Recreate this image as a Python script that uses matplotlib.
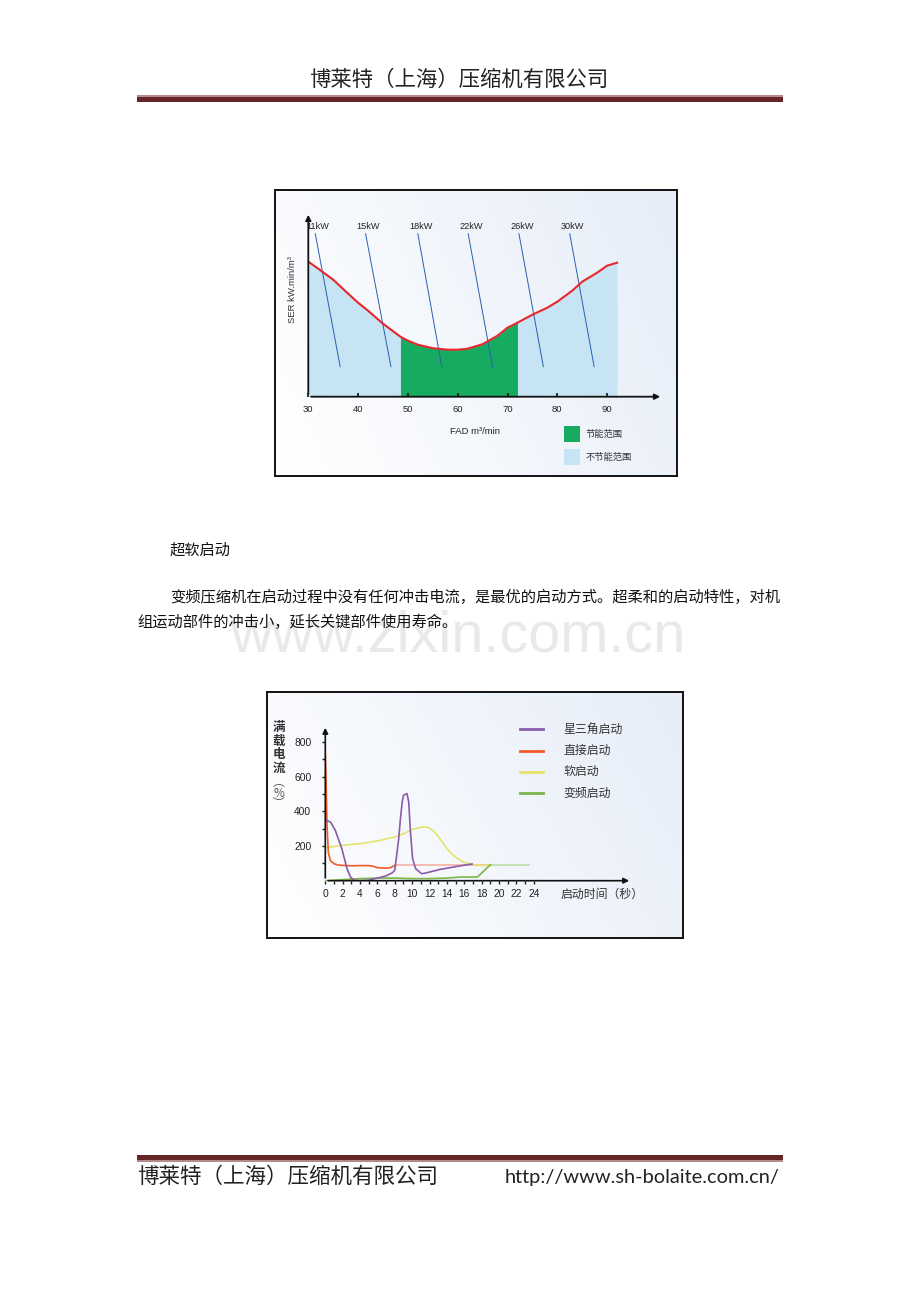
import numpy as np
import matplotlib
matplotlib.use('Agg')
import matplotlib.pyplot as plt
from matplotlib.patches import Rectangle
from matplotlib.colors import LinearSegmentedColormap

plt.rcParams['font.family'] = ['Liberation Sans', 'Noto Sans CJK SC', 'DejaVu Sans']

# ---- 页面文字 ----
COMPANY = '博莱特（上海）压缩机有限公司'
URL = 'http://www.sh-bolaite.com.cn/'
SECTION = '超软启动'
PARA_1 = '变频压缩机在启动过程中没有任何冲击电流，是最优的启动方式。超柔和的启动特性，对机'
PARA_2 = '组运动部件的冲击小，延长关键部件使用寿命。'
WATERMARK = 'www.zixin.com.cn'

# ---- 图1：SER 曲线 ----
fad = [30, 32, 35, 38, 40, 42, 45, 48.5, 50, 52, 55, 58, 60, 62, 65, 68, 70, 72,
       75, 78, 80, 83, 85, 88, 90, 92]
ser = [135, 128, 117, 103, 94, 86, 73, 60, 56, 52, 48.5, 47, 47, 48, 52.5, 61, 69, 74,
       82, 89, 95, 106, 115, 124, 131, 134]
save_lo, save_hi = 48.5, 72
fad_ticks = [30, 40, 50, 60, 70, 80, 90]
kw_labels = ['11kW', '15kW', '18kW', '22kW', '26kW', '30kW']
kw_x_top = [31.4, 41.5, 52.0, 62.1, 72.3, 82.5]
kw_x_bot = [36.4, 46.6, 56.8, 67.0, 77.2, 87.4]
kw_y_top, kw_y_bot = 163, 30

# ---- 图2：启动电流 ----
sd_t = [0, 0.6, 1.15, 1.9, 2.5, 2.9, 3.3, 4.0, 5.0, 6.0, 7.0, 7.7, 8.0, 8.45, 8.65, 8.85,
        9.0, 9.4, 9.6, 9.8, 10.05, 10.4, 11.1, 11.7, 13.2, 14.8, 16.3, 16.9]
sd_v = [350, 338, 290, 185, 69, 21, 2, 0, 3, 15, 28, 45, 60, 242, 358, 454,
        492, 502, 454, 281, 127, 69, 40, 46, 65, 79, 92, 96]
dr_t = [0, 0.08, 0.2, 0.35, 0.6, 1.0, 1.5, 2, 3, 4, 5, 5.5, 6, 7, 7.5, 8]
dr_v = [730, 600, 320, 160, 115, 98, 90, 88, 86, 87, 87, 83, 75, 72, 75, 88]
dr_tail_t = [8, 19]
dr_tail_v = [88, 88]
ss_t = [0, 2, 4, 6, 8, 9, 10, 11, 11.5, 12, 12.5, 13, 14, 15, 16, 17, 18, 19]
ss_v = [190, 204, 213, 229, 252, 270, 296, 308, 310, 304, 285, 255, 185, 135, 105, 93, 88, 88]
vf_t = [0, 2, 4, 6, 8, 10, 12, 14, 15.5, 17.5, 19]
vf_v = [0, 6, 12, 15, 15, 12, 12, 15, 21, 21, 92]
vf_tail_t = [19, 23.5]
vf_tail_v = [92, 92]
legend2 = ['星三角启动', '直接启动', '软启动', '变频启动']
colors2 = ['#8a5cad', '#f05a28', '#e4e46c', '#7ab648']

W, H = 920, 1302
fig = plt.figure(figsize=(W / 100, H / 100), dpi=100)
fig.patch.set_facecolor('white')


def px_box(x0, y0, x1, y1):
    return [x0 / W, 1 - y1 / H, (x1 - x0) / W, (y1 - y0) / H]


page = fig.add_axes([0, 0, 1, 1], zorder=0)
page.set_xlim(0, W)
page.set_ylim(H, 0)
page.axis('off')

cjk = ['Noto Sans CJK SC', 'DejaVu Sans']

# 页眉
page.text(459, 80, COMPANY, ha='center', va='center', fontsize=15.4, family=cjk, color='#222')
page.add_patch(Rectangle((137, 95), 646, 1.6, color='#b58a8a', lw=0))
page.add_patch(Rectangle((137, 97), 646, 5, color='#662526', lw=0))

# 水印
page.text(458, 652, WATERMARK, ha='center', va='baseline', fontsize=41.5,
          family='Liberation Sans', color='#e9e9e9', zorder=0)

# 正文
page.text(170, 550, SECTION, va='center', fontsize=11, family=cjk, color='#111')
page.text(170, 597, PARA_1, va='center', fontsize=11, family=cjk, color='#111')
page.text(137, 622, PARA_2, va='center', fontsize=11, family=cjk, color='#111')

# 页脚
page.add_patch(Rectangle((137, 1155), 646, 4.5, color='#662526', lw=0))
page.add_patch(Rectangle((137, 1160), 646, 1.6, color='#b58a8a', lw=0))
page.text(137, 1177, COMPANY, ha='left', va='center', fontsize=15.5, family=cjk, color='#222')
url = page.text(780, 1178, URL, ha='right', va='center', fontsize=15, family='Lato', color='#222')
fig.canvas.draw()
w = url.get_window_extent().width
url.set_fontsize(15 * 275 / w)

grad = LinearSegmentedColormap.from_list('bg', ['#ffffff', '#e6edf8'])


def frame(x0, y0, x1, y1):
    fr = fig.add_axes(px_box(x0, y0, x1, y1), zorder=1)
    gx, gy = np.meshgrid(np.linspace(0, 1, 200), np.linspace(0, 1, 200))
    fr.imshow(0.75 * gx + 0.25 * (1 - gy), cmap=grad, extent=[x0, x1, y1, y0],
              aspect='auto', vmin=0, vmax=1)
    fr.set_xlim(x0, x1)
    fr.set_ylim(y1, y0)
    fr.set_xticks([])
    fr.set_yticks([])
    for s in fr.spines.values():
        s.set_linewidth(1.4)
        s.set_color('#111')
    return fr


# ================= 图1 =================
fr1 = frame(275, 190, 677, 476)
ax1 = fig.add_axes(px_box(308.3, 212, 663, 396.7), zorder=2)
ax1.patch.set_alpha(0)
ax1.set_xlim(30, 30 + (663 - 308.3) / 4.98)
ax1.set_ylim(0, 184.7)
for s in ax1.spines.values():
    s.set_visible(False)

fad_a = np.array(fad)
ser_a = np.array(ser)
ax1.fill_between(fad_a, ser_a, where=fad_a <= save_lo, color='#c6e4f4', lw=0)
ax1.fill_between(fad_a, ser_a, where=fad_a >= save_hi, color='#c6e4f4', lw=0)
ax1.fill_between(fad_a, ser_a, where=(fad_a >= save_lo) & (fad_a <= save_hi), color='#17ab62', lw=0)
for lab, xt, xb in zip(kw_labels, kw_x_top, kw_x_bot):
    ax1.plot([xt, xb], [kw_y_top, kw_y_bot], color='#2a5fae', lw=0.7)
    ax1.text(xt + 0.6, 170.5, lab, ha='center', va='center', fontsize=6.6, color='#222')
ax1.plot(fad_a, ser_a, color='#e8262b', lw=1.5)

ax1.annotate('', xy=(1.0, 0), xytext=(0, 0), xycoords='axes fraction',
             arrowprops=dict(arrowstyle='-|>', color='#111', lw=1.3, mutation_scale=8))
ax1.annotate('', xy=(0, 1.0), xytext=(0, 0), xycoords='axes fraction',
             arrowprops=dict(arrowstyle='-|>', color='#111', lw=1.3, mutation_scale=8))
ax1.set_xticks(fad_ticks)
ax1.set_xticklabels([str(v) for v in fad_ticks])
ax1.tick_params(axis='x', direction='in', length=3, width=1.2, color='#111', pad=6,
                labelsize=6.8, labelcolor='#222')
ax1.set_yticks([])
ax1.set_xlabel('FAD m³/min', fontsize=6.8, color='#222', labelpad=6)
ax1.xaxis.set_label_coords(0.47, -0.165)
fr1.text(293, 290, 'SER kW.min/m³', rotation=90, ha='center', va='center', fontsize=6.8, color='#333')

# 图例
fr1.add_patch(Rectangle((564, 425.5), 16, 16, color='#17ab62', lw=0))
fr1.add_patch(Rectangle((564, 449), 16, 15.5, color='#c6e4f4', lw=0))
fr1.text(586, 434, '节能范围', va='center', fontsize=6.7, family=cjk, color='#333')
fr1.text(586, 457, '不节能范围', va='center', fontsize=6.7, family=cjk, color='#333')

# ================= 图2 =================
fr2 = frame(267, 692, 683, 938)
ax2 = fig.add_axes(px_box(325.3, 725, 632, 880.7), zorder=2)
ax2.patch.set_alpha(0)
ax2.set_xlim(0, 35.3)
ax2.set_ylim(0, 897)
for s in ax2.spines.values():
    s.set_visible(False)

ax2.plot(dr_tail_t, dr_tail_v, color='#f6b2a6', lw=1.2)
ax2.plot(vf_tail_t, vf_tail_v, color='#bcdca4', lw=1.2)
ax2.plot(ss_t, ss_v, color=colors2[2], lw=1.2)
ax2.plot(vf_t, vf_v, color=colors2[3], lw=1.2)
ax2.plot(dr_t, dr_v, color=colors2[1], lw=1.2)
ax2.plot(sd_t, sd_v, color=colors2[0], lw=1.2)

ax2.annotate('', xy=(1.0, 0), xytext=(0, 0), xycoords='axes fraction',
             arrowprops=dict(arrowstyle='-|>', color='#111', lw=1.2, mutation_scale=8))
ax2.annotate('', xy=(0, 1.0), xytext=(0, 0), xycoords='axes fraction',
             arrowprops=dict(arrowstyle='-|>', color='#111', lw=1.2, mutation_scale=8))
ax2.set_xticks(range(0, 25, 2))
ax2.set_xticks(range(0, 25, 1), minor=True)
ax2.set_yticks([200, 400, 600, 800])
ax2.set_yticks(range(100, 900, 100), minor=True)
ax2.tick_params(which='both', direction='out', length=2, width=1, color='#222')
ax2.tick_params(axis='x', which='major', pad=4, labelsize=7.4, labelcolor='#222')
ax2.tick_params(axis='y', which='major', pad=8, labelsize=7.4, labelcolor='#222')
fr2.text(602, 894.7, '启动时间（秒）', ha='center', va='center', fontsize=8.6, family=cjk, color='#333')

# 纵轴标题（竖排）
fr2.text(278.7, 721, '满\n载\n电\n流', ha='center', va='top', fontsize=9, linespacing=1.05,
         family=cjk, color='#333', fontweight='bold')
fr2.text(278.7, 776, '︵\n%\n︶', ha='center', va='top', fontsize=8.5, linespacing=0.75,
         family=cjk, color='#555')

for i, (lab, c) in enumerate(zip(legend2, colors2)):
    yy = 729.3 + i * 21.2
    fr2.plot([520, 543.5], [yy, yy], color=c, lw=2)
    fr2.text(563.5, yy, lab, va='center', fontsize=8.6, family=cjk, color='#333')
fr2.set_xlim(267, 683)
fr2.set_ylim(938, 692)

fig.savefig('out.png', dpi=100)
